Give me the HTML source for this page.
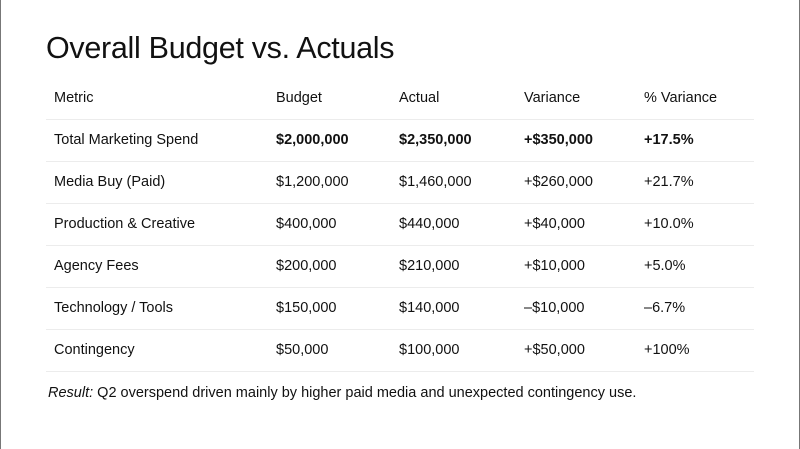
<!DOCTYPE html>
<html><head><meta charset="utf-8"><style>
*{margin:0;padding:0;box-sizing:border-box}
body{width:800px;height:449px;background:#fff;font-family:"Liberation Sans",sans-serif;color:#111;position:relative;overflow:hidden;border-left:1px solid #777;border-right:1px solid #777}
h1{position:absolute;left:45px;top:31px;font-size:30.5px;font-weight:normal;letter-spacing:-0.3px}
table{position:absolute;left:45px;top:77px;width:708px;border-collapse:collapse;font-size:14.5px}
td{height:42px;border-bottom:1px solid #ececec;padding-left:8px;vertical-align:middle}
tr.b td{font-weight:bold}
tr.b td:first-child{font-weight:normal}
.note{position:absolute;left:47px;top:385px;font-size:14.5px}
</style></head><body>
<h1>Overall Budget vs. Actuals</h1>
<table>
<colgroup><col style="width:222px"><col style="width:123px"><col style="width:125px"><col style="width:120px"><col></colgroup>
<tbody id="tb"></tbody>
</table>
<div class="note"><i>Result:</i> Q2 overspend driven mainly by higher paid media and unexpected contingency use.</div>
<script>
const headers=["Metric","Budget","Actual","Variance","% Variance"];
const metrics=["Total Marketing Spend","Media Buy (Paid)","Production & Creative","Agency Fees","Technology / Tools","Contingency"];
const budget=["$2,000,000","$1,200,000","$400,000","$200,000","$150,000","$50,000"];
const actual=["$2,350,000","$1,460,000","$440,000","$210,000","$140,000","$100,000"];
const variance=["+$350,000","+$260,000","+$40,000","+$10,000","–$10,000","+$50,000"];
const pctVariance=["+17.5%","+21.7%","+10.0%","+5.0%","–6.7%","+100%"];
const tb=document.getElementById('tb');
function row(cells,cls,name){
  const tr=document.createElement('tr');
  if(cls)tr.className=cls;
  
  
  cells.forEach(c=>{const td=document.createElement('td');td.textContent=c;
    
    
    tr.appendChild(td);});
  tb.appendChild(tr);
}
row(headers,'','header-row');
metrics.forEach((m,i)=>row([m,budget[i],actual[i],variance[i],pctVariance[i]],i===0?'b':'','data-row'));
</script>
</body></html>
